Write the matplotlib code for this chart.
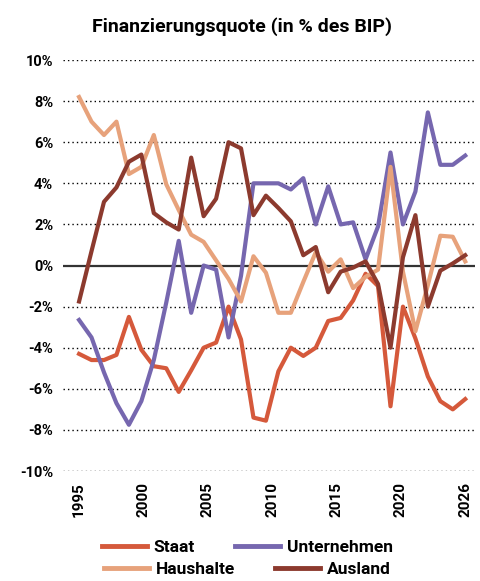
import matplotlib
matplotlib.use('Agg')
import matplotlib.pyplot as plt
import numpy as np

plt.rcParams['font.family'] = ['Roboto', 'DejaVu Sans']
plt.rcParams['font.weight'] = 'bold'

years = list(range(1995, 2027))

staat = [-4.3, -4.6, -4.6, -4.35, -2.5, -4.1, -4.9, -5.0, -6.15, -5.1, -4.0, -3.75, -2.0, -3.6, -7.4, -7.55,
         -5.15, -4.0, -4.4, -4.0, -2.7, -2.55, -1.7, -0.4, -1.0, -6.85, -2.0, -3.55, -5.4, -6.6, -7.0, -6.5]
unternehmen = [-2.65, -3.5, -5.2, -6.7, -7.75, -6.6, -4.6, -1.8, 1.2, -2.3, 0.0, -0.2, -3.5, -0.5, 4.0, 4.0,
               4.0, 3.7, 4.25, 2.0, 3.85, 2.0, 2.1, 0.3, 1.9, 5.5, 2.0, 3.6, 7.45, 4.9, 4.9, 5.35]
haushalte = [8.2, 7.0, 6.35, 7.0, 4.45, 4.8, 6.35, 3.95, 2.7, 1.5, 1.15, 0.25, -0.65, -1.75, 0.45, -0.35,
             -2.3, -2.3, -0.8, 0.65, -0.3, 0.3, -1.1, -0.55, -0.2, 4.8, -0.3, -3.2, -0.95, 1.45, 1.4, 0.2]
ausland = [-1.75, 0.7, 3.1, 3.8, 5.05, 5.4, 2.55, 2.1, 1.75, 5.25, 2.4, 3.25, 6.0, 5.7, 2.45, 3.4,
           2.8, 2.15, 0.5, 0.9, -1.3, -0.3, -0.1, 0.2, -0.9, -4.0, 0.4, 2.45, -2.0, -0.25, 0.1, 0.5]

tick_labels = ['1995', '2000', '2005', '2010', '2015', '2020', '2026']
y_ticks = [-10, -8, -6, -4, -2, 0, 2, 4, 6, 8, 10]

c_staat = '#D5593B'
c_unt = '#7667AF'
c_haus = '#E7A27B'
c_ausl = '#8C3A2E'

fig = plt.figure(figsize=(4.8, 5.81), dpi=100)
ax = fig.add_axes([0.131, 0.1893, 0.859, 0.7074])

for y in y_ticks:
    if y != 0:
        ax.axhline(y, color='black', linestyle=(0, (1, 2.2)), linewidth=1.0, zorder=1)
ax.axhline(0, color='#333333', linewidth=1.6, zorder=2)

l1, = ax.plot(years, staat, color=c_staat, linewidth=3.0, label='Staat', zorder=3)
l2, = ax.plot(years, unternehmen, color=c_unt, linewidth=3.0, label='Unternehmen', zorder=3)
l3, = ax.plot(years, haushalte, color=c_haus, linewidth=3.0, label='Haushalte', zorder=3)
l4, = ax.plot(years, ausland, color=c_ausl, linewidth=3.0, label='Ausland', zorder=3)

ax.set_xlim(1993.7, 2026.8)
ax.set_ylim(-10, 10)
ax.set_yticks(y_ticks)
ax.set_yticklabels([f'{y}%' for y in y_ticks], fontsize=10.5, fontweight='bold')
ax.set_xticks(np.linspace(1995, 2026, len(tick_labels)))
ax.set_xticklabels(tick_labels, rotation=90, fontsize=11, fontweight='bold')
ax.tick_params(length=0, pad=8)
ax.tick_params(axis='y', pad=7)
for s in ax.spines.values():
    s.set_visible(False)

fig.text(0.505, 0.955, 'Finanzierungsquote (in % des BIP)', ha='center', va='center',
         fontsize=14, fontweight='bold')

# one legend per row, each centred on its own
leg_kw = dict(ncol=2, loc='center', frameon=False, prop={'size': 12.5, 'weight': 'bold'},
              handlelength=2.6, handletextpad=0.4, columnspacing=2.3)
leg1 = fig.legend([l1, l2], ['Staat', 'Unternehmen'], bbox_to_anchor=(0.515, 0.058), **leg_kw)
leg2 = fig.legend([l3, l4], ['Haushalte', 'Ausland'], bbox_to_anchor=(0.515, 0.02), **leg_kw)
for leg in (leg1, leg2):
    for h in leg.legend_handles:
        h.set_linewidth(3.5)

fig.savefig('out.png', dpi=100)
